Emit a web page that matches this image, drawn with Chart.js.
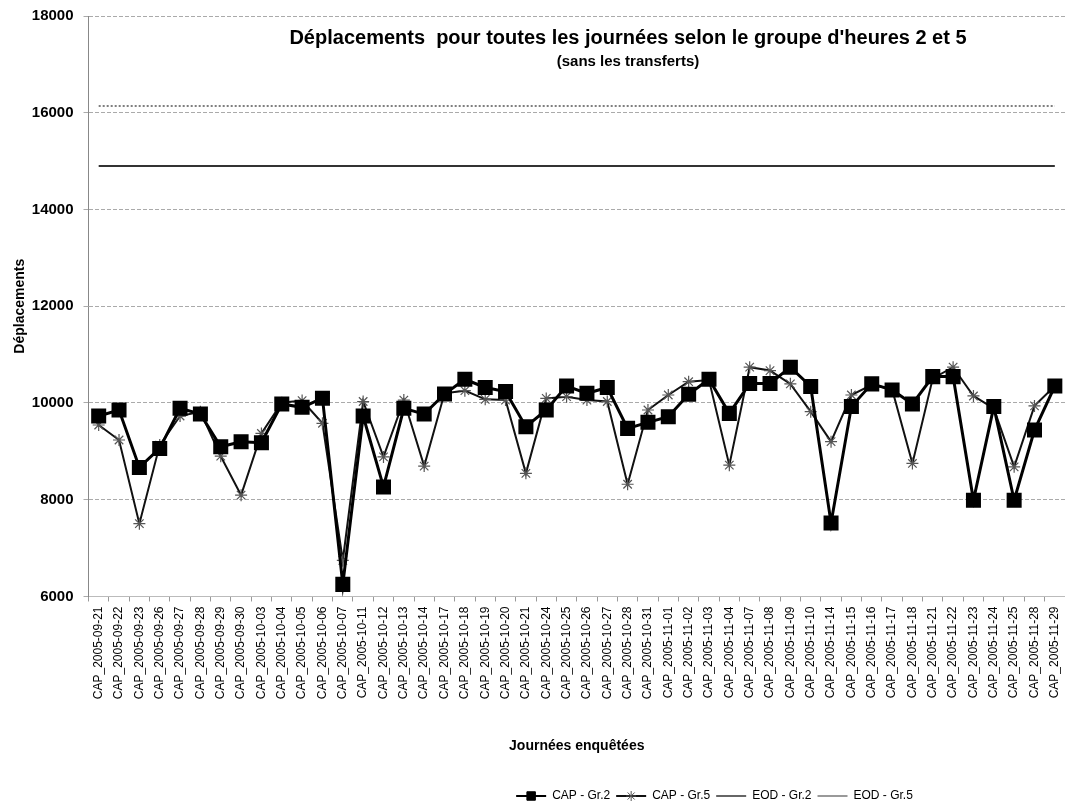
<!DOCTYPE html>
<html>
<head>
<meta charset="utf-8">
<script src="https://cdn.jsdelivr.net/npm/chart.js@4.4.1/dist/chart.umd.min.js"></script>
<style>
  html, body { margin: 0; padding: 0; background: #fff; }
  #wrap { width: 1065px; height: 803px; position: relative; }
</style>
</head>
<body>
<div id="wrap"><canvas id="c" width="1065" height="803"></canvas></div>
<script>
const categories = [
  "CAP_2005-09-21","CAP_2005-09-22","CAP_2005-09-23","CAP_2005-09-26","CAP_2005-09-27","CAP_2005-09-28",
  "CAP_2005-09-29","CAP_2005-09-30","CAP_2005-10-03","CAP_2005-10-04","CAP_2005-10-05","CAP_2005-10-06",
  "CAP_2005-10-07","CAP_2005-10-11","CAP_2005-10-12","CAP_2005-10-13","CAP_2005-10-14","CAP_2005-10-17",
  "CAP_2005-10-18","CAP_2005-10-19","CAP_2005-10-20","CAP_2005-10-21","CAP_2005-10-24","CAP_2005-10-25",
  "CAP_2005-10-26","CAP_2005-10-27","CAP_2005-10-28","CAP_2005-10-31","CAP_2005-11-01","CAP_2005-11-02",
  "CAP_2005-11-03","CAP_2005-11-04","CAP_2005-11-07","CAP_2005-11-08","CAP_2005-11-09","CAP_2005-11-10",
  "CAP_2005-11-14","CAP_2005-11-15","CAP_2005-11-16","CAP_2005-11-17","CAP_2005-11-18","CAP_2005-11-21",
  "CAP_2005-11-22","CAP_2005-11-23","CAP_2005-11-24","CAP_2005-11-25","CAP_2005-11-28","CAP_2005-11-29"
];

const capGr2 = [
  9730, 9855, 8667, 9060, 9890, 9770, 9095, 9200, 9180, 9980, 9910, 10100,
  6250, 9730, 8265, 9890, 9770, 10185, 10490, 10320, 10235, 9510, 9855, 10350,
  10200, 10320, 9475, 9600, 9715, 10180, 10490, 9785, 10405, 10405, 10740, 10340,
  7520, 9925, 10395, 10270, 9980, 10545, 10545, 7990, 9925, 7990, 9440, 10350
];

const capGr5 = [
  9545, 9235, 7505, 9130, 9730, 9820, 8900, 8095, 9370, 10005, 10050, 9580,
  6745, 10030, 8885, 10060, 8695, 10200, 10255, 10075, 10060, 8545, 10095, 10130,
  10060, 10030, 8320, 9855, 10165, 10440, 10475, 8715, 10740, 10670, 10395, 9820,
  9200, 10165, 10375, 10285, 8750, 10510, 10740, 10145, 9890, 8680, 9940, 10350
];

const eodGr2 = [
  14900, 14900, 14900, 14900, 14900, 14900, 14900, 14900, 14900, 14900, 14900, 14900,
  14900, 14900, 14900, 14900, 14900, 14900, 14900, 14900, 14900, 14900, 14900, 14900,
  14900, 14900, 14900, 14900, 14900, 14900, 14900, 14900, 14900, 14900, 14900, 14900,
  14900, 14900, 14900, 14900, 14900, 14900, 14900, 14900, 14900, 14900, 14900, 14900
];

const eodGr5 = [
  16140, 16140, 16140, 16140, 16140, 16140, 16140, 16140, 16140, 16140, 16140, 16140,
  16140, 16140, 16140, 16140, 16140, 16140, 16140, 16140, 16140, 16140, 16140, 16140,
  16140, 16140, 16140, 16140, 16140, 16140, 16140, 16140, 16140, 16140, 16140, 16140,
  16140, 16140, 16140, 16140, 16140, 16140, 16140, 16140, 16140, 16140, 16140, 16140
];

const yTicks = [6000, 8000, 10000, 12000, 14000, 16000, 18000];
const seriesNames = ["CAP - Gr.2", "CAP - Gr.5", "EOD - Gr.2", "EOD - Gr.5"];
const titleText = "Déplacements  pour toutes les journées selon le groupe d'heures 2 et 5";
const subtitleText = "(sans les transferts)";
const yTitle = "Déplacements";
const xTitle = "Journées enquêtées";

const FONT = "'Liberation Sans', Arial, sans-serif";

const innerTitle = {
  id: 'innerTitle',
  afterDraw(chart) {
    const ctx = chart.ctx;
    ctx.save();
    ctx.fillStyle = '#000';
    ctx.textAlign = 'center';
    ctx.textBaseline = 'middle';
    ctx.font = "bold 20px " + FONT;
    ctx.fillText(titleText, 628, 38);
    ctx.font = "bold 15px " + FONT;
    ctx.fillText(subtitleText, 628, 62);
    ctx.restore();
  }
};

const legendShift = {
  id: 'legendShift',
  afterLayout(chart) {
    const lg = chart.legend;
    if (lg) { lg.left += 176; lg.right += 176; lg.top += 9; lg.bottom += 9; }
  }
};

// draws each dataset's point marker on its legend line sample
const legendMarkers = {
  id: 'legendMarkers',
  afterDraw(chart) {
    const lg = chart.legend;
    if (!lg || !lg.legendHitBoxes) return;
    const ctx = chart.ctx;
    const bw = lg.options.labels.boxWidth;
    lg.legendHitBoxes.forEach((hb, i) => {
      const ds = chart.data.datasets[i];
      if (!ds || !ds.pointRadius) return;
      const cx = hb.left + bw / 2;
      const cy = hb.top + hb.height / 2;
      ctx.save();
      ctx.fillStyle = ds.pointBackgroundColor || ds.borderColor;
      ctx.strokeStyle = ds.pointBorderColor || ds.borderColor;
      Chart.helpers.drawPoint(ctx, {
        pointStyle: ds.pointStyle, radius: ds.pointStyle === 'rect' ? 6 : 5,
        rotation: 0, borderWidth: ds.pointBorderWidth || 1
      }, cx, cy);
      ctx.restore();
    });
  }
};

new Chart(document.getElementById('c'), {
  type: 'line',
  data: {
    labels: categories,
    datasets: [
      {
        label: seriesNames[0], data: capGr2,
        borderColor: '#000', backgroundColor: '#000', borderWidth: 3,
        pointStyle: 'rect', pointRadius: 8.5, pointBackgroundColor: '#000', pointBorderColor: '#000',
        tension: 0, order: 1
      },
      {
        label: seriesNames[1], data: capGr5,
        borderColor: '#111', backgroundColor: '#111', borderWidth: 2,
        pointStyle: 'star', pointRadius: 6, pointBorderColor: '#555', pointBorderWidth: 1.2,
        tension: 0, order: 2
      },
      {
        label: seriesNames[2], data: eodGr2,
        borderColor: '#333', backgroundColor: '#666', borderWidth: 2,
        pointRadius: 0, tension: 0, order: 3
      },
      {
        label: seriesNames[3], data: eodGr5,
        borderColor: '#555', backgroundColor: '#999', borderWidth: 1.5, borderDash: [2, 2],
        pointRadius: 0, tension: 0, order: 4
      }
    ]
  },
  options: {
    responsive: false,
    animation: false,
    layout: { autoPadding: false, padding: { left: 12, right: 0, top: 16, bottom: 0 } },
    plugins: {
      title: { display: false },
      tooltip: { enabled: false },
      legend: {
        position: 'bottom',
        labels: {
          color: '#000',
          font: { family: FONT, size: 12 },
          boxWidth: 30,
          boxHeight: 2,
          padding: 6,
          generateLabels(chart) {
            return chart.data.datasets.map((ds, i) => ({
              text: ds.label,
              fillStyle: ds.backgroundColor,
              strokeStyle: ds.backgroundColor,
              lineWidth: 0,
              hidden: false,
              datasetIndex: i,
              fontColor: '#000'
            }));
          }
        }
      }
    },
    scales: {
      x: {
        offset: true,
        afterFit(scale) { scale.paddingRight = 0; scale.paddingLeft = 0; },
        grid: { display: true, drawOnChartArea: false, drawTicks: true, tickLength: 5, color: '#999', offset: true },
        border: { display: true, color: '#bbb' },
        ticks: {
          autoSkip: false, maxRotation: 90, minRotation: 90,
          color: '#000', font: { family: FONT, size: 12 }, padding: 5
        },
        title: {
          display: true, text: xTitle, color: '#000',
          font: { family: FONT, size: 14, weight: 'bold' },
          padding: { top: 34, bottom: 20 }
        }
      },
      y: {
        min: 6000, max: 18000,
        afterFit(scale) { scale.paddingTop = 0; scale.paddingBottom = 0; },
        afterBuildTicks(axis) { axis.ticks = yTicks.map(v => ({ value: v })); },
        grid: { color: '#aaa', lineWidth: 1, tickLength: 5, drawTicks: true },
        border: { display: true, color: '#888', dash: [4, 2] },
        ticks: {
          color: '#000', font: { family: FONT, size: 15, weight: 'bold' }, padding: 10,
          callback: (v) => String(v)
        },
        title: {
          display: true, text: yTitle, color: '#000',
          font: { family: FONT, size: 14, weight: 'bold' },
          padding: { top: 0, bottom: -7 }
        }
      }
    }
  },
  plugins: [innerTitle, legendShift, legendMarkers]
});
</script>
</body>
</html>
